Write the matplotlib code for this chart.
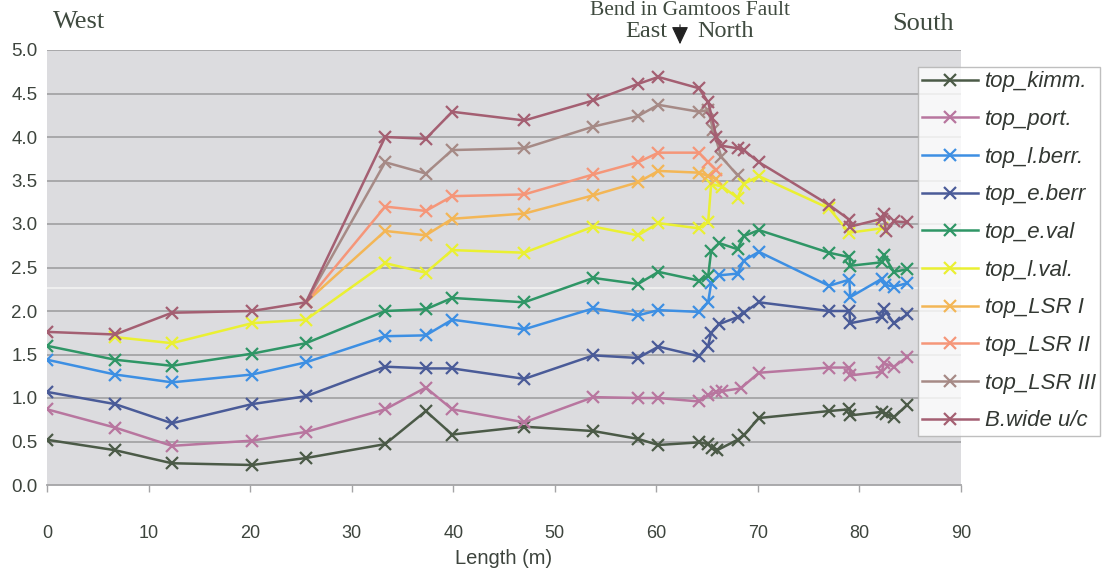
import matplotlib
matplotlib.use("Agg")
import matplotlib.pyplot as plt
from matplotlib.lines import Line2D
from matplotlib.patches import FancyArrowPatch

# ---- data: depth of horizon tops along the section (m) ----
kimm_x = [0, 6.7, 12.3, 20.2, 25.5, 33.3, 37.3, 39.9, 47.0, 53.8, 58.2, 60.2, 64.2, 65.1, 65.5, 66.0,
          68.0, 68.6, 70.1, 77.0, 79.0, 79.1, 82.2, 82.6, 83.4, 84.7]
kimm_y = [0.52, 0.40, 0.25, 0.23, 0.31, 0.47, 0.85, 0.58, 0.67, 0.62, 0.53, 0.46, 0.49, 0.47, 0.42, 0.40,
          0.52, 0.57, 0.77, 0.85, 0.87, 0.80, 0.84, 0.82, 0.78, 0.92]

port_x = [0, 6.7, 12.3, 20.2, 25.5, 33.3, 37.3, 39.9, 47.0, 53.8, 58.2, 60.2, 64.2, 65.1, 65.9, 66.5,
          68.3, 70.1, 77.0, 79.0, 79.1, 82.2, 82.4, 83.4, 84.7]
port_y = [0.87, 0.66, 0.45, 0.51, 0.61, 0.87, 1.12, 0.87, 0.72, 1.01, 1.00, 1.00, 0.96, 1.03, 1.07, 1.08,
          1.11, 1.29, 1.35, 1.35, 1.26, 1.30, 1.40, 1.36, 1.47]

lberr_x = [0, 6.7, 12.3, 20.2, 25.5, 33.3, 37.3, 39.9, 47.0, 53.8, 58.2, 60.2, 64.2, 65.1, 65.4, 66.2,
           68.0, 68.6, 70.1, 77.0, 79.0, 79.1, 82.2, 82.5, 83.4, 84.7]
lberr_y = [1.44, 1.27, 1.18, 1.27, 1.41, 1.71, 1.72, 1.90, 1.79, 2.03, 1.95, 2.01, 1.99, 2.10, 2.32, 2.41,
           2.43, 2.58, 2.68, 2.29, 2.36, 2.16, 2.37, 2.30, 2.28, 2.32]

eberr_x = [0, 6.7, 12.3, 20.2, 25.5, 33.3, 37.3, 39.9, 47.0, 53.8, 58.2, 60.2, 64.2, 65.1, 65.4, 66.2,
           68.0, 68.6, 70.1, 77.0, 79.0, 79.1, 82.2, 82.4, 83.4, 84.7]
eberr_y = [1.07, 0.93, 0.71, 0.93, 1.02, 1.36, 1.34, 1.34, 1.22, 1.49, 1.46, 1.59, 1.48, 1.60, 1.75, 1.85,
           1.93, 1.98, 2.10, 2.00, 2.00, 1.86, 1.93, 2.02, 1.86, 1.96]

eval_x = [0, 6.7, 12.3, 20.2, 25.5, 33.3, 37.3, 39.9, 47.0, 53.8, 58.2, 60.2, 64.2, 65.1, 65.4, 66.2,
          68.0, 68.6, 70.1, 77.0, 79.0, 79.1, 82.2, 82.4, 83.4, 84.7]
eval_y = [1.60, 1.44, 1.37, 1.51, 1.63, 2.00, 2.02, 2.15, 2.10, 2.38, 2.31, 2.45, 2.35, 2.40, 2.69, 2.78,
          2.71, 2.86, 2.93, 2.67, 2.62, 2.52, 2.56, 2.64, 2.45, 2.48]

lval_x = [6.7, 12.3, 20.2, 25.5, 33.3, 37.3, 39.9, 47.0, 53.8, 58.2, 60.2, 64.2, 65.1, 65.4, 66.5,
          68.0, 68.6, 70.1, 77.0, 79.0, 82.2]
lval_y = [1.70, 1.63, 1.86, 1.90, 2.55, 2.44, 2.70, 2.67, 2.97, 2.87, 3.01, 2.95, 3.02, 3.46, 3.43,
          3.30, 3.46, 3.55, 3.18, 2.90, 2.95]

lsr1_x = [25.5, 33.3, 37.3, 39.9, 47.0, 53.8, 58.2, 60.2, 64.2, 65.1, 65.9]
lsr1_y = [2.10, 2.92, 2.87, 3.06, 3.12, 3.33, 3.48, 3.61, 3.59, 3.55, 3.52]

lsr2_x = [25.5, 33.3, 37.3, 39.9, 47.0, 53.8, 58.2, 60.2, 64.2, 65.1, 65.9]
lsr2_y = [2.10, 3.20, 3.15, 3.32, 3.34, 3.57, 3.71, 3.82, 3.82, 3.71, 3.62]

lsr3_x = [25.5, 33.3, 37.3, 39.9, 47.0, 53.8, 58.2, 60.2, 64.2, 65.1, 65.6, 66.4, 68.0]
lsr3_y = [2.10, 3.71, 3.58, 3.85, 3.87, 4.12, 4.24, 4.37, 4.29, 4.31, 4.08, 3.77, 3.56]

bwide_x = [0, 6.7, 12.3, 20.2, 25.5, 33.3, 37.3, 39.9, 47.0, 53.8, 58.2, 60.2, 64.2, 65.1, 65.5, 65.9,
           66.4, 68.0, 68.6, 70.1, 77.0, 79.0, 79.1, 82.2, 82.4, 82.6, 83.4, 84.7]
bwide_y = [1.76, 1.73, 1.98, 2.00, 2.10, 4.00, 3.98, 4.29, 4.19, 4.42, 4.61, 4.69, 4.56, 4.40, 4.22, 4.00,
           3.90, 3.87, 3.85, 3.71, 3.22, 3.05, 2.97, 3.06, 3.12, 2.92, 3.03, 3.02]

series_names = ["top_kimm.", "top_port.", "top_l.berr.", "top_e.berr", "top_e.val",
                "top_l.val.", "top_LSR I", "top_LSR II", "top_LSR III", "B.wide u/c"]
series_x = [kimm_x, port_x, lberr_x, eberr_x, eval_x, lval_x, lsr1_x, lsr2_x, lsr3_x, bwide_x]
series_y = [kimm_y, port_y, lberr_y, eberr_y, eval_y, lval_y, lsr1_y, lsr2_y, lsr3_y, bwide_y]
series_colors = ["#4b5a47", "#b8769f", "#3d8fe3", "#4a5b98", "#2f9666",
                 "#eaf032", "#f3b656", "#f59679", "#a68a86", "#a45f72"]

x_ticks = [0, 10, 20, 30, 40, 50, 60, 70, 80, 90]
y_ticks = [0.0, 0.5, 1.0, 1.5, 2.0, 2.5, 3.0, 3.5, 4.0, 4.5, 5.0]

W, H = 1107, 573
fig = plt.figure(figsize=(W / 100, H / 100), dpi=100)
fig.patch.set_facecolor("white")

left, right, top, bottom = 47, 961, 50, 485
ax = fig.add_axes([left / W, 1 - bottom / H, (right - left) / W, (bottom - top) / H])
ax.set_facecolor("#dcdcdf")
ax.set_xlim(0, 90)
ax.set_ylim(0, 5)

for v in y_ticks[1:]:
    ax.axhline(v, color="#a4a4a6", lw=1.3, zorder=1)
# faint light streak across the plot area
ax.axhline(2.27, color="#f2f2f2", lw=1.2, zorder=1)

for name, xs, ys, c in zip(series_names, series_x, series_y, series_colors):
    ax.plot(xs, ys, color=c, lw=1.8, marker="x", ms=9, mew=1.6, zorder=3, label=name)

for s in ["top", "right", "left"]:
    ax.spines[s].set_visible(False)
ax.spines["bottom"].set_color("#a4a4a6")
ax.spines["bottom"].set_linewidth(1.3)

tick_color = "#3d443d"
sans = ["Liberation Sans", "DejaVu Sans"]
ax.set_yticks(y_ticks)
ax.set_yticklabels([f"{v:.1f}" for v in y_ticks], fontsize=13.5, color=tick_color, family=sans)
ax.tick_params(axis="y", length=0, pad=7)
ax.set_xticks(x_ticks)
ax.set_xticklabels([str(v) for v in x_ticks], fontsize=13, color=tick_color, family=sans)
ax.tick_params(axis="x", length=5, width=1, color="#a4a4a6", pad=24)
ax.set_xlabel("Length (m)", fontsize=14.5, color=tick_color, family=sans, labelpad=5)

# annotations above the section
serif = ["Liberation Serif", "DejaVu Serif"]
txt_color = "#3f4a3f"
fig.text(79 / W, 1 - 22 / H, "West", ha="center", va="center", fontsize=19,
         family=serif, color=txt_color)
fig.text(923 / W, 1 - 24 / H, "South", ha="center", va="center", fontsize=19,
         family=serif, color=txt_color)
fig.text(690 / W, 1 - 1 / H, "Bend in Gamtoos Fault", ha="center", va="top",
         fontsize=15.5, family=serif, color=txt_color)
fig.text(667 / W, 1 - 37 / H, "East", ha="right", va="baseline", fontsize=17.5,
         family=serif, color=txt_color)
fig.text(697 / W, 1 - 37 / H, "North", ha="left", va="baseline", fontsize=17.5,
         family=serif, color=txt_color)
fig.add_artist(FancyArrowPatch(
    (680 / W, 1 - 22 / H), (680 / W, 1 - 47 / H), transform=fig.transFigure,
    arrowstyle="-|>,head_length=0.55,head_width=0.26", mutation_scale=20,
    color="#222222", lw=0.8))

handles = [Line2D([], [], color=c, lw=1.8, marker="x", ms=9, mew=1.6) for c in series_colors]
leg = fig.legend(handles, series_names, loc="upper left",
                 bbox_to_anchor=(918 / W, 1 - 67 / H), frameon=True, fancybox=False,
                 handlelength=2.5, handletextpad=0.3, labelspacing=0.75,
                 borderpad=0.2, borderaxespad=0,
                 prop={"family": sans, "style": "italic", "size": 16})
leg.get_frame().set_edgecolor("#b0b0b0")
leg.get_frame().set_linewidth(1.0)
for t in leg.get_texts():
    t.set_color("#333833")

fig.savefig("out.png", dpi=100)
